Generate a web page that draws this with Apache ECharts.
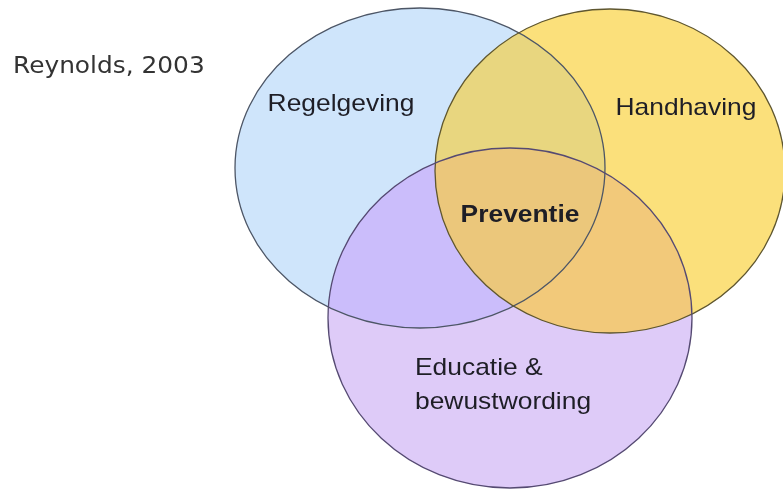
<!DOCTYPE html>
<html><head><meta charset="utf-8">
<script src="https://cdn.jsdelivr.net/npm/echarts@6/dist/echarts.min.js"></script>
<style>html,body{margin:0;padding:0;background:#fff}#c{width:783px;height:489px}</style>
</head><body><div id="c"></div>
<script>
// Venn sets (data units = picture units of the hidden axes)
const sets = ['Regelgeving', 'Handhaving', 'Educatie & bewustwording'];
const centerX = [420, 610, 510];
const centerY = [168, 171, 318];
const radiusX = [185, 175, 182];
const radiusY = [160, 162, 170];
// overlaps: indices of sets
const overlaps = [[0, 1], [0, 2], [1, 2], [0, 1, 2]];
// labels
const labelText = ['Regelgeving', 'Handhaving', 'Educatie &', 'bewustwording', 'Preventie'];
const labelX = [341, 686, 415, 415, 520];
const labelY = [104, 108, 368, 402, 215];
const sourceText = 'Reynolds, 2003';

const setColors = ['#cfe5fb', '#fbe07b', '#decbf8'];
const overlapColors = ['#e8d67f', '#cbbdfb', '#f2c97a', '#ebc77b'];
const strokeColors = ['#4d5666', '#5e5630', '#554a72'];

const chart = echarts.init(document.getElementById('c'), null, {renderer: 'canvas'});

function ell(api, i) {
  const c = api.coord([centerX[i], centerY[i]]);
  const s = api.size([radiusX[i], radiusY[i]]);
  return {cx: c[0], cy: c[1], rx: s[0], ry: s[1]};
}

chart.setOption({
  animation: false,
  grid: {left: 0, right: 0, top: 0, bottom: 0},
  xAxis: {type: 'value', min: 0, max: 783, show: false},
  yAxis: {type: 'value', min: 0, max: 489, inverse: true, show: false},
  series: [
    {
      type: 'custom', name: 'sets', z: 2, silent: true,
      data: sets.map((n, i) => [i]),
      renderItem: (p, api) => {
        const i = api.value(0);
        return {type: 'ellipse', shape: ell(api, i), style: {fill: setColors[i], stroke: null}};
      }
    },
    {
      type: 'custom', name: 'overlaps', z: 3, silent: true,
      data: overlaps.map((o, k) => [k]),
      renderItem: (p, api) => {
        const k = api.value(0);
        const o = overlaps[k];
        if (o.length === 2) {
          return {
            type: 'ellipse', shape: ell(api, o[1]),
            style: {fill: overlapColors[k]},
            clipPath: {type: 'ellipse', shape: ell(api, o[0])}
          };
        }
        return {
          type: 'group',
          clipPath: {type: 'ellipse', shape: ell(api, o[0])},
          children: [{
            type: 'ellipse', shape: ell(api, o[2]),
            style: {fill: overlapColors[k]},
            clipPath: {type: 'ellipse', shape: ell(api, o[1])}
          }]
        };
      }
    },
    {
      type: 'custom', name: 'outlines', z: 4, silent: true,
      data: sets.map((n, i) => [i]),
      renderItem: (p, api) => {
        const i = api.value(0);
        return {type: 'ellipse', shape: ell(api, i), style: {fill: null, stroke: strokeColors[i], lineWidth: 1.3}};
      }
    },
    {
      type: 'custom', name: 'labels', z: 5, silent: true,
      data: labelText.map((t, i) => [labelX[i], labelY[i], i]),
      renderItem: (p, api) => {
        const i = api.value(2);
        const c = api.coord([api.value(0), api.value(1)]);
        const bold = labelText[i] === 'Preventie';
        const left = i === 2 || i === 3;
        return {
          type: 'text', x: c[0], y: c[1], scaleX: 1.1,
          style: {
            text: labelText[i], x: 0, y: 0,
            font: (bold ? 'bold ' : '') + '24px "Liberation Sans", Arial, sans-serif',
            fill: '#1e1e26', align: left ? 'left' : 'center', verticalAlign: 'middle'
          }
        };
      }
    }
  ],
  graphic: [{
    type: 'text', x: 13, y: 67, scaleX: 1.08,
    style: {text: sourceText, x: 0, y: 0, font: '23px "DejaVu Sans", Verdana, sans-serif', fill: '#333333', verticalAlign: 'middle'}
  }]
});
</script></body></html>
